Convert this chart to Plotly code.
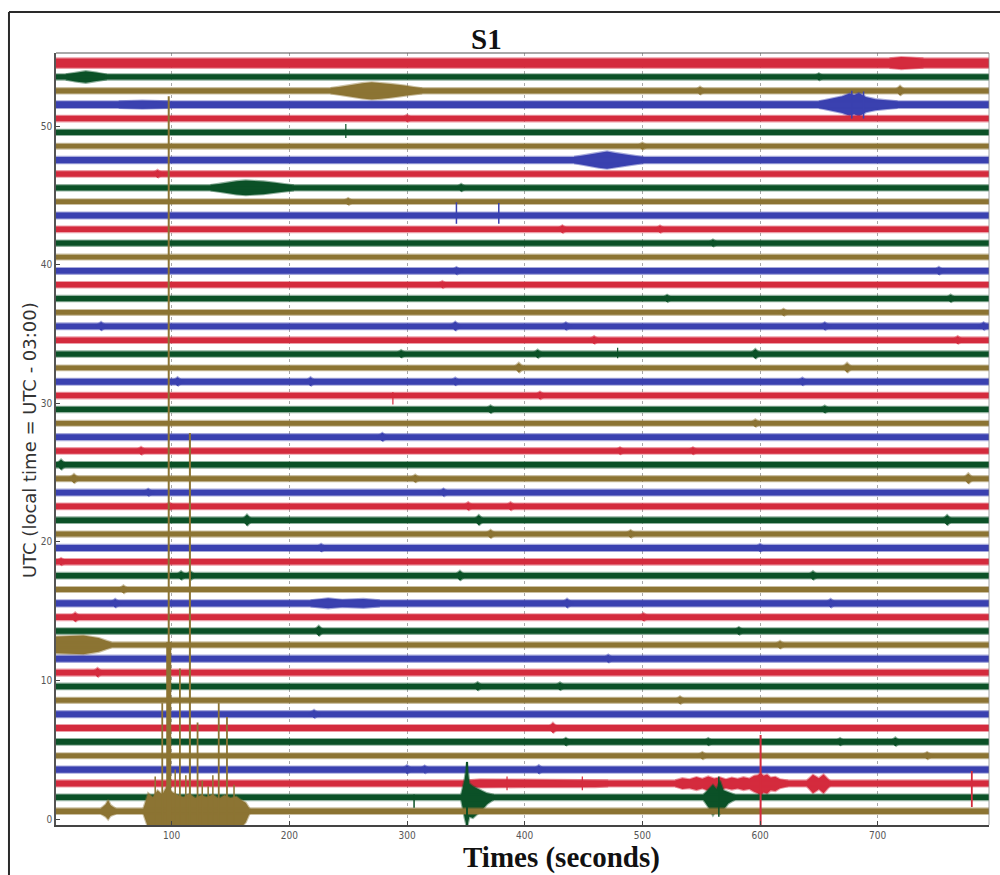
import plotly.graph_objects as go

# ---------------------------------------------------------------
# Helicorder-style record, station S1: 55 stacked traces
# ---------------------------------------------------------------
N_TRACES = 55
TRACE_OFFSET = 0.57          # vertical position of trace i is i + TRACE_OFFSET
T_RANGE = [1.7, 794.6]
Y_RANGE = [-0.43, 55.3]

# colour cycle, counted from the bottom trace upward
cycle_colors = ["#8c7433", "#0b5127", "#d42b3d", "#3a41b0"]
cycle_fringe = ["rgba(140,116,51,0.45)", "rgba(11,81,39,0.45)",
                "rgba(212,43,61,0.45)", "rgba(58,65,176,0.45)"]

# background noise half-width of each trace (index 0 = bottom)
noise_halfwidth = [
    0.20, 0.20, 0.22, 0.22, 0.18, 0.20, 0.21, 0.22, 0.18, 0.20,
    0.21, 0.22, 0.18, 0.20, 0.21, 0.22, 0.18, 0.20, 0.20, 0.22,
    0.18, 0.20, 0.20, 0.21, 0.18, 0.20, 0.20, 0.21, 0.17, 0.19,
    0.20, 0.21, 0.17, 0.19, 0.20, 0.21, 0.17, 0.19, 0.20, 0.21,
    0.17, 0.19, 0.20, 0.21, 0.17, 0.19, 0.20, 0.23, 0.17, 0.19,
    0.20, 0.24, 0.19, 0.19, 0.34,
]

# emergent events: trace, time knots (s), amplitude above / below baseline
event_trace = [53, 52, 51, 51, 47, 45, 54, 12, 15, 2, 2, 2, 0, 1, 1, 0]
event_t = [
    [10, 18, 27, 36, 44],
    [235, 250, 262, 270, 278, 286, 298, 312],
    [650, 662, 670, 676, 680, 684, 690, 698, 716],
    [55, 75, 97],
    [442, 455, 463, 470, 477, 487, 500],
    [133, 145, 155, 163, 170, 178, 188, 203],
    [710, 720, 728, 738],
    [0, 12, 25, 38, 48],
    [218, 233, 245, 263, 276],
    [352, 362, 400, 460, 470],
    [528, 534, 540, 546, 551, 556, 561, 566, 571, 576, 581, 586, 591,
     595, 598, 600.5, 603, 606, 609, 613, 617, 623],
    [640, 645, 650, 654, 659],
    [76, 80, 84, 88, 92, 96, 100, 104, 110, 115, 120, 125, 130, 135,
     140, 145, 150, 155, 159, 163, 166],
    [346, 349, 351, 353, 356, 360, 364, 368, 373],
    [552, 556, 560, 563, 566, 569, 573, 578],
    [40, 44, 46, 48, 52],
]
event_up = [
    [0.19, 0.32, 0.42, 0.32, 0.19],
    [0.19, 0.40, 0.55, 0.62, 0.58, 0.50, 0.38, 0.19],
    [0.24, 0.45, 0.6, 0.8, 0.7, 0.85, 0.55, 0.4, 0.24],
    [0.24, 0.29, 0.24],
    [0.23, 0.42, 0.55, 0.62, 0.52, 0.40, 0.23],
    [0.19, 0.36, 0.48, 0.53, 0.50, 0.46, 0.36, 0.19],
    [0.34, 0.44, 0.40, 0.34],
    [0.6, 0.66, 0.68, 0.5, 0.2],
    [0.22, 0.36, 0.26, 0.32, 0.22],
    [0.22, 0.29, 0.27, 0.26, 0.22],
    [0.22, 0.38, 0.30, 0.46, 0.34, 0.50, 0.36, 0.44, 0.30, 0.42, 0.33,
     0.45, 0.36, 0.55, 0.60, 0.75, 0.55, 0.65, 0.42, 0.48, 0.30, 0.22],
    [0.22, 0.62, 0.38, 0.65, 0.22],
    [0.2, 1.3, 1.0, 1.5, 1.2, 1.8, 1.4, 1.2, 1.0, 1.25, 0.95, 1.15, 1.0, 1.2,
     0.9, 1.15, 0.95, 1.05, 0.8, 0.6, 0.2],
    [0.2, 1.3, 2.55, 1.0, 0.8, 0.6, 0.45, 0.3, 0.2],
    [0.2, 0.55, 0.9, 0.6, 1.2, 0.5, 0.35, 0.2],
    [0.2, 0.5, 0.8, 0.45, 0.2],
]
event_down = [
    [0.19, 0.32, 0.42, 0.32, 0.19],
    [0.19, 0.40, 0.55, 0.62, 0.58, 0.50, 0.38, 0.19],
    [0.24, 0.45, 0.6, 0.8, 0.7, 0.85, 0.55, 0.4, 0.24],
    [0.24, 0.29, 0.24],
    [0.23, 0.42, 0.55, 0.62, 0.52, 0.40, 0.23],
    [0.19, 0.36, 0.48, 0.53, 0.50, 0.46, 0.36, 0.19],
    [0.34, 0.44, 0.40, 0.34],
    [0.6, 0.66, 0.68, 0.5, 0.2],
    [0.22, 0.36, 0.26, 0.32, 0.22],
    [0.22, 0.29, 0.27, 0.26, 0.22],
    [0.22, 0.40, 0.34, 0.48, 0.36, 0.52, 0.38, 0.46, 0.34, 0.44, 0.36,
     0.48, 0.40, 0.60, 0.70, 0.90, 0.65, 0.75, 0.50, 0.55, 0.34, 0.22],
    [0.22, 0.70, 0.42, 0.70, 0.22],
    [0.2, 1.2, 1.2, 1.2, 1.2, 1.2, 1.2, 1.2, 1.2, 1.2, 1.2, 1.2, 1.2, 1.2,
     1.2, 1.2, 1.2, 1.2, 1.2, 0.8, 0.2],
    [0.2, 1.5, 2.2, 1.4, 1.5, 1.2, 0.9, 0.5, 0.2],
    [0.2, 0.7, 1.3, 0.9, 1.2, 0.9, 0.45, 0.2],
    [0.2, 0.4, 0.6, 0.35, 0.2],
]

# short bursts: trace, time (s), peak amplitude
bump_trace = [
    52, 52, 46, 45, 42, 42, 39, 39, 37, 37, 35, 35, 35, 35, 35,
    34, 34, 33, 33, 33, 32, 32, 31, 31, 31, 31, 30, 29, 29, 28,
    27, 26, 26, 26, 25, 24, 24, 24, 23, 23, 22, 22, 22, 21, 21,
    21, 20, 20, 19, 19, 18, 17, 17, 17, 17, 16, 15, 15, 15, 14,
    14, 13, 13, 12, 11, 10, 9, 9, 8, 7, 6, 5, 5, 5, 5,
    4, 4, 3, 3, 3, 41, 38, 36, 44, 48, 50, 53,
]
bump_t = [
    549, 719, 88, 346, 432, 515, 342, 752, 521, 762, 40, 341, 435, 655, 790,
    459, 768, 295, 411, 596, 395, 674, 105, 218, 341, 636, 413, 371, 655, 596,
    279, 74, 481, 543, 6, 17, 307, 777, 80, 331, 98, 352, 388, 164, 361,
    759, 371, 490, 227, 600, 6, 108, 116, 345, 645, 59, 52, 436, 660, 18,
    501, 225, 582, 617, 471, 37, 360, 430, 532, 221, 424, 435, 556, 668, 715,
    551, 742, 300, 315, 412, 560, 330, 620, 250, 500, 300, 650,
]
bump_amp = [
    0.30, 0.36, 0.29, 0.28, 0.29, 0.27, 0.28, 0.29, 0.27, 0.28, 0.32, 0.34, 0.29, 0.29, 0.29,
    0.29, 0.29, 0.28, 0.31, 0.36, 0.36, 0.36, 0.32, 0.32, 0.29, 0.29, 0.29, 0.29, 0.27, 0.28,
    0.31, 0.29, 0.27, 0.27, 0.38, 0.34, 0.29, 0.38, 0.27, 0.29, 0.27, 0.30, 0.30, 0.41, 0.38,
    0.38, 0.31, 0.29, 0.29, 0.29, 0.27, 0.32, 0.32, 0.36, 0.32, 0.29, 0.32, 0.34, 0.32, 0.34,
    0.29, 0.38, 0.29, 0.29, 0.29, 0.34, 0.31, 0.29, 0.29, 0.30, 0.38, 0.29, 0.27, 0.27, 0.32,
    0.27, 0.27, 0.32, 0.29, 0.32, 0.26, 0.26, 0.26, 0.26, 0.26, 0.26, 0.26,
]
BUMP_HALF_DURATION = 4.5

# impulsive spikes: trace, time (s), reach above / below baseline, line width (px)
spike_trace = [0, 0, 0, 0, 0, 0, 0, 0, 0, 0, 0, 0, 0, 0, 0,
               1, 1, 1, 2, 2, 2, 2, 43, 43, 49, 30, 33, 51, 51]
spike_t = [97.5, 97.5, 115.5, 107, 92, 122, 140, 147, 86, 103, 112, 126, 131, 135, 153,
           351, 306, 565, 600.5, 780, 385, 449, 342, 378, 248, 288, 479, 678, 688]
spike_up = [51.6, 12.2, 27.3, 10.3, 7.8, 6.4, 7.8, 6.8, 2.5, 3.0, 2.6, 2.2, 1.8, 2.6, 1.9,
            2.55, 0.2, 1.5, 3.5, 0.9, 0.5, 0.5, 0.95, 0.9, 0.6, 0.25, 0.45, 1.0, 0.95]
spike_down = [2.0, 2.0, 2.0, 2.0, 2.0, 2.0, 2.0, 2.0, 2.0, 2.0, 2.0, 2.0, 2.0, 2.0, 2.0,
              2.2, 0.75, 1.4, 3.2, 1.7, 0.5, 0.5, 0.6, 0.6, 0.4, 0.65, 0.3, 1.0, 1.0]
spike_width = [2, 5, 2, 1.8, 1.8, 1.8, 1.8, 1.8, 1.5, 1.5, 1.5, 1.5, 1.5, 1.5, 1.5,
               2, 1.5, 1.5, 2, 1.8, 1.2, 1.2, 1.5, 1.5, 1.2, 1.2, 1.2, 1.5, 1.5]

TICK_VALS_X = [100, 200, 300, 400, 500, 600, 700]
TICK_VALS_Y = [0, 10, 20, 30, 40, 50]


def trace_color(i):
    return cycle_colors[i % 4]


def baseline(i):
    return i + TRACE_OFFSET


fig = go.Figure()

# draw from the top trace downward so lower traces overlap upper ones
for i in range(N_TRACES - 1, -1, -1):
    b = baseline(i)
    n = noise_halfwidth[i]
    xs = [0, 800, 800, 0, 0, None]
    ys = [b + n, b + n, b - n, b - n, b + n, None]
    for k, tr in enumerate(event_trace):
        if tr != i:
            continue
        t = event_t[k]
        xs += t + t[::-1] + [None]
        ys += [b + u for u in event_up[k]] + [b - d for d in event_down[k][::-1]] + [None]
    for k, tr in enumerate(bump_trace):
        if tr != i:
            continue
        t, a = bump_t[k], bump_amp[k]
        xs += [t - BUMP_HALF_DURATION, t, t + BUMP_HALF_DURATION, t, None]
        ys += [b, b + a, b, b - a, None]
    fig.add_trace(go.Scatter(
        x=xs, y=ys, mode="lines", fill="toself", fillcolor=trace_color(i),
        line=dict(color=cycle_fringe[i % 4], width=2.2), hoverinfo="skip", showlegend=False,
    ))

# impulsive spikes on top
for k, tr in enumerate(spike_trace):
    b = baseline(tr)
    fig.add_trace(go.Scatter(
        x=[spike_t[k], spike_t[k]],
        y=[b - spike_down[k], b + spike_up[k]],
        mode="lines", line=dict(color=trace_color(tr), width=spike_width[k]),
        hoverinfo="skip", showlegend=False,
    ))

tick_font = dict(family="DejaVu Sans Condensed, Liberation Sans Narrow, DejaVu Sans", size=10, color="#555555")

fig.update_layout(
    width=1000, height=875,
    margin=dict(l=56, r=11, t=53, b=50),
    paper_bgcolor="white", plot_bgcolor="white",
    xaxis=dict(
        range=T_RANGE, tickvals=TICK_VALS_X, ticks="inside", ticklen=4,
        tickcolor="#444", tickfont=tick_font,
        showgrid=True, gridcolor="#a8a8a8", griddash="dot", gridwidth=1,
        showline=True, linecolor="#444", linewidth=2, mirror=False,
        zeroline=False,
    ),
    yaxis=dict(
        range=Y_RANGE, tickvals=TICK_VALS_Y, ticks="inside", ticklen=4,
        tickcolor="#444", tickfont=tick_font,
        showgrid=False, showline=True, linecolor="#555", linewidth=1.5,
        zeroline=False,
    ),
    shapes=[
        # frame: top and right edges of the plotting area
        dict(type="line", xref="paper", yref="paper", x0=0, x1=1, y0=1, y1=1,
             line=dict(color="#555", width=1.2)),
        dict(type="line", xref="paper", yref="paper", x0=1, x1=1, y0=0, y1=1,
             line=dict(color="#888", width=0.8)),
        # outer figure border
        dict(type="line", xref="paper", yref="paper", x0=-0.0504, x1=1.02, y0=1.0531, y1=1.0531,
             line=dict(color="#2a2a2a", width=2)),
        dict(type="line", xref="paper", yref="paper", x0=-0.0504, x1=-0.0504, y0=1.0531, y1=-0.07,
             line=dict(color="#2a2a2a", width=2)),
    ],
    annotations=[
        dict(text="<b>S1</b>", xref="paper", yref="paper", x=0.4609, y=1.0181,
             xanchor="center", yanchor="middle", showarrow=False,
             font=dict(family="Liberation Serif, Times New Roman, serif", size=29, color="#111")),
        dict(text="<b>Times (seconds)</b>", xref="paper", yref="paper", x=0.5413, y=-0.0415,
             xanchor="center", yanchor="middle", showarrow=False,
             font=dict(family="Liberation Serif, Times New Roman, serif", size=29, color="#111")),
        dict(text="UTC (local time = UTC - 03:00)", xref="paper", yref="paper", x=-0.0289, y=0.4987,
             xanchor="center", yanchor="middle", textangle=-90, showarrow=False,
             font=dict(family="DejaVu Sans, Verdana, sans-serif", size=18, color="#333")),
    ],
)

fig.write_html("out.html")
